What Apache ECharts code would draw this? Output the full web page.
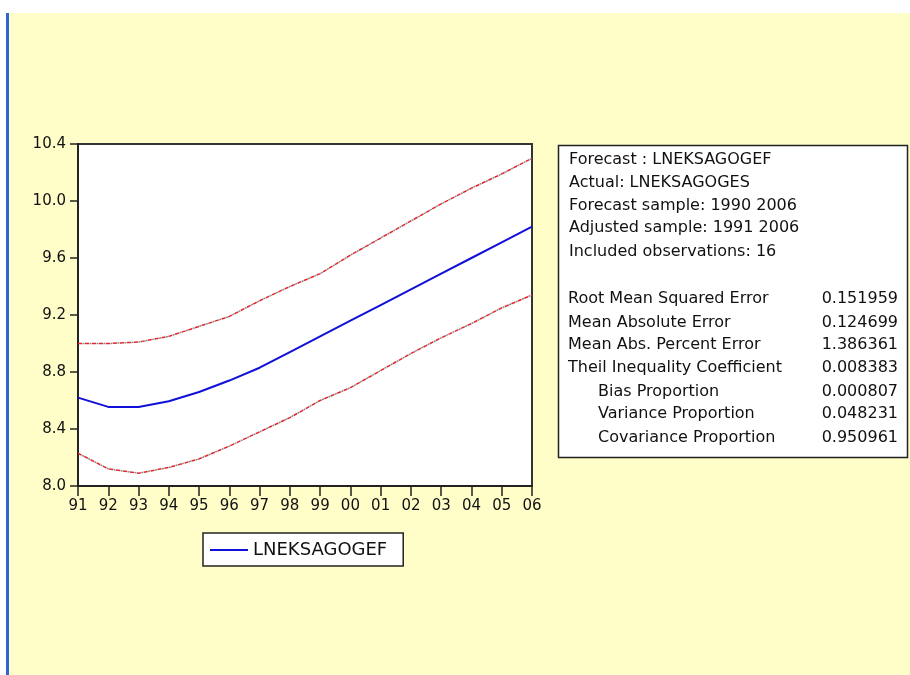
<!DOCTYPE html>
<html>
<head>
<meta charset="utf-8">
<script src="https://cdn.jsdelivr.net/npm/echarts@6/dist/echarts.min.js"></script>
<style>
html,body{margin:0;padding:0;background:#fff;}
#c{width:910px;height:675px;}
</style>
</head>
<body>
<div id="c"></div>
<script>
var years = ['91','92','93','94','95','96','97','98','99','00','01','02','03','04','05','06'];
var forecast = [8.62,8.555,8.555,8.595,8.66,8.74,8.83,8.94,9.05,9.16,9.27,9.38,9.49,9.60,9.71,9.82];
var upperBand = [9.00,9.00,9.01,9.05,9.12,9.19,9.30,9.40,9.49,9.62,9.74,9.86,9.98,10.09,10.19,10.30];
var lowerBand = [8.23,8.12,8.09,8.13,8.19,8.28,8.38,8.48,8.60,8.69,8.81,8.93,9.04,9.14,9.25,9.34];
var yTicks = [8.0, 10.4, 0.4];
var headerLines = ['Forecast : LNEKSAGOGEF','Actual: LNEKSAGOGES','Forecast sample: 1990 2006','Adjusted sample: 1991 2006','Included observations: 16'];
var statLabels = ['Root Mean Squared Error','Mean Absolute Error','Mean Abs. Percent Error','Theil Inequality Coefficient','Bias Proportion','Variance Proportion','Covariance Proportion'];
var statValues = ['0.151959','0.124699','1.386361','0.008383','0.000807','0.048231','0.950961'];
var statIndent = [0,0,0,0,1,1,1];

var FONT = '"DejaVu Sans", Verdana, sans-serif';
var chart = echarts.init(document.getElementById('c'));

var graphics = [
  {type:'rect', shape:{x:0,y:0,width:910,height:13}, style:{fill:'#ffffff'}, silent:true},
  {type:'rect', shape:{x:0,y:13,width:6,height:662}, style:{fill:'#ffffff'}, silent:true},
  {type:'rect', shape:{x:6,y:13,width:3,height:662}, style:{fill:'#2f63d8'}, silent:true},
  {type:'rect', shape:{x:558.5,y:145.5,width:349,height:312}, style:{fill:'#ffffff', stroke:'#222', lineWidth:1.5}, silent:true}
];
var headerY = [160,183,206,228,252];
headerLines.forEach(function(t,i){
  graphics.push({type:'text', left:569, top:headerY[i]-8, style:{text:t, font:'16px '+FONT, fill:'#111'}, silent:true});
});
var statY = [299,323,345,368,392,414,438];
statLabels.forEach(function(t,i){
  graphics.push({type:'text', left: statIndent[i] ? 598 : 568, top:statY[i]-8, style:{text:t, font:'16px '+FONT, fill:'#111'}, silent:true});
  graphics.push({type:'text', right: 910-898, top:statY[i]-8, style:{text:statValues[i], font:'16px '+FONT, fill:'#111', textAlign:'right'}, silent:true});
});

chart.setOption({
  backgroundColor:'#fffdc8',
  animation:false,
  grid:{left:78, top:144, width:454, height:342, show:true, backgroundColor:'#ffffff', borderColor:'#333', borderWidth:2},
  legend:{
    data:[{name:'LNEKSAGOGEF', icon:'rect'}], left:203, top:533, padding:[8,16,7,7],
    backgroundColor:'#ffffff', borderColor:'#222', borderWidth:1.5, borderRadius:0,
    itemWidth:38, itemHeight:2, itemGap:5,
    textStyle:{fontFamily:FONT, fontSize:18, color:'#111'}
  },
  xAxis:{
    type:'category', data:years, boundaryGap:false,
    axisLine:{lineStyle:{color:'#222', width:2}},
    axisTick:{alignWithLabel:true, length:10, lineStyle:{color:'#222', width:1.5}},
    axisLabel:{fontFamily:FONT, fontSize:15, color:'#111', margin:13, interval:0},
    splitLine:{show:false}
  },
  yAxis:{
    type:'value', min:yTicks[0], max:yTicks[1], interval:yTicks[2],
    axisLine:{show:true, lineStyle:{color:'#222', width:2}},
    axisTick:{show:true, length:8, lineStyle:{color:'#222', width:1.5}},
    axisLabel:{fontFamily:FONT, fontSize:15, color:'#111', margin:12, formatter:function(v){return v.toFixed(1);}},
    splitLine:{show:false}
  },
  graphic:graphics,
  series:[
    {name:'upper-gray', type:'line', data:upperBand, symbol:'none', lineStyle:{color:'#8a8a8a', width:1.5, type:[2,5], dashOffset:2.5}, silent:true, z:2},
    {name:'upper', type:'line', data:upperBand, symbol:'none', lineStyle:{color:'#e3262d', width:1.5, type:[4,3]}, silent:true, z:3},
    {name:'lower-gray', type:'line', data:lowerBand, symbol:'none', lineStyle:{color:'#8a8a8a', width:1.5, type:[2,5], dashOffset:2.5}, silent:true, z:2},
    {name:'lower', type:'line', data:lowerBand, symbol:'none', lineStyle:{color:'#e3262d', width:1.5, type:[4,3]}, silent:true, z:3},
    {name:'LNEKSAGOGEF', type:'line', data:forecast, symbol:'none', itemStyle:{color:'#1010d8'}, lineStyle:{color:'#1010d8', width:2}, z:4}
  ]
});
</script>
</body>
</html>
